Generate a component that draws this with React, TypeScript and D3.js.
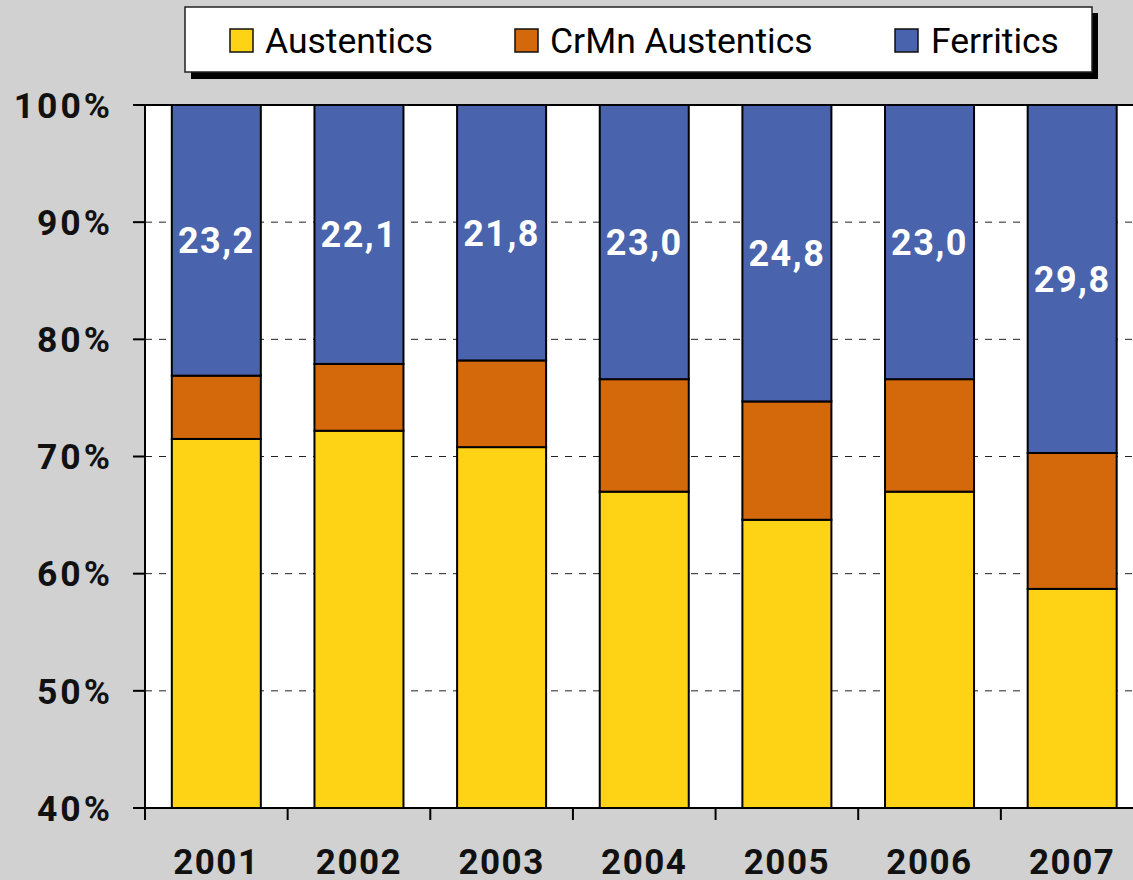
import React from "react";
import * as d3 from "d3";

const years = ["2001", "2002", "2003", "2004", "2005", "2006", "2007"];
const austenitics = [71.5, 72.2, 70.8, 67.0, 64.6, 67.0, 58.7];
const crmnAustenitics = [5.4, 5.7, 7.4, 9.6, 10.1, 9.6, 11.6];
const ferriticLabels = ["23,2", "22,1", "21,8", "23,0", "24,8", "23,0", "29,8"];
const yTicks = [40, 50, 60, 70, 80, 90, 100];
const seriesNames = ["Austentics", "CrMn Austentics", "Ferritics"];
const seriesColors = ["#FED215", "#D4690B", "#4963AD"];

const W = 1133;
const H = 880;
const left = 145;
const right = 1143.5;
const top = 105;
const bottom = 808;
const FONT = "Roboto, 'Open Sans', sans-serif";

export default function App() {
  const x = d3.scaleBand<string>().domain(years).range([left, right]).paddingInner(0.376).paddingOuter(0.188);
  const y = d3.scaleLinear().domain([40, 100]).range([bottom, top]);
  const step = x.step();
  const boundaries = d3.range(years.length + 1).map((i) => left + i * step);

  const stacks = years.map((yr, i) => {
    const a = austenitics[i];
    const c = a + crmnAustenitics[i];
    return [
      { y0: 40, y1: a, color: seriesColors[0] },
      { y0: a, y1: c, color: seriesColors[1] },
      { y0: c, y1: 100, color: seriesColors[2] },
    ];
  });

  const legendItems = [
    { sx: 230, tx: 265 },
    { sx: 515, tx: 550 },
    { sx: 895, tx: 931 },
  ];

  return (
    <div style={{ position: "absolute", left: 0, top: 0 }}>
      <svg width={W} height={H} style={{ display: "block" }}>
        <rect x={0} y={0} width={W} height={H} fill="#D1D1D1" />
        {/* plot area */}
        <rect x={left} y={top} width={right - left + 20} height={bottom - top} fill="#FFFFFF" />
        {/* gridlines */}
        {yTicks.filter((t) => t !== 40 && t !== 100).map((t) => (
          <line key={t} x1={left} x2={W} y1={y(t)} y2={y(t)} stroke="#222" strokeWidth={1} strokeDasharray="7,7" />
        ))}
        <line x1={left} x2={W} y1={top} y2={top} stroke="#000" strokeWidth={2} />
        {/* bars */}
        {stacks.map((segs, i) => (
          <g key={years[i]}>
            {segs.map((s, j) => (
              <rect
                key={j}
                x={x(years[i])!}
                y={y(s.y1)}
                width={x.bandwidth()}
                height={y(s.y0) - y(s.y1)}
                fill={s.color}
                stroke="#000"
                strokeWidth={2}
              />
            ))}
            <text
              x={x(years[i])! + x.bandwidth() / 2}
              y={(y(100) + y(segs[2].y0)) / 2}
              dy="0.36em"
              textAnchor="middle"
              fill="#FFFFFF"
              fontFamily={FONT}
              fontWeight="bold"
              fontSize={36}
              letterSpacing={1.5}
            >
              {ferriticLabels[i]}
            </text>
          </g>
        ))}
        {/* axes */}
        <line x1={left} x2={left} y1={top} y2={bottom} stroke="#000" strokeWidth={2} />
        <line x1={left} x2={W} y1={bottom} y2={bottom} stroke="#000" strokeWidth={2} />
        {yTicks.map((t) => (
          <g key={t}>
            <line x1={133} x2={left} y1={y(t)} y2={y(t)} stroke="#000" strokeWidth={2} />
            <text
              x={113}
              y={y(t)}
              dy="0.36em"
              textAnchor="end"
              fontFamily={FONT}
              fontWeight="bold"
              fontSize={35.5}
              letterSpacing={3}
              fill="#111"
            >
              {t}%
            </text>
          </g>
        ))}
        {boundaries.map((bx, i) => (
          <line key={i} x1={bx} x2={bx} y1={bottom} y2={820} stroke="#000" strokeWidth={2} />
        ))}
        {years.map((yr) => (
          <text
            key={yr}
            x={x(yr)! + x.bandwidth() / 2}
            y={874}
            textAnchor="middle"
            fontFamily={FONT}
            fontWeight="bold"
            fontSize={35}
            letterSpacing={1.5}
            fill="#111"
          >
            {yr}
          </text>
        ))}
        {/* legend */}
        <rect x={191} y={13} width={907} height={66} fill="#000" />
        <rect x={185} y={7} width={907} height={65} fill="#FFFFFF" stroke="#222" strokeWidth={1.5} />
        {seriesNames.map((n, i) => (
          <g key={n}>
            <rect x={legendItems[i].sx} y={29} width={23} height={23} fill={seriesColors[i]} stroke="#111" strokeWidth={1.5} />
            <text
              x={legendItems[i].tx}
              y={53}
              fontFamily={FONT}
              fontSize={35.5}
              fill="#000"
            >
              {n}
            </text>
          </g>
        ))}
      </svg>
    </div>
  );
}
